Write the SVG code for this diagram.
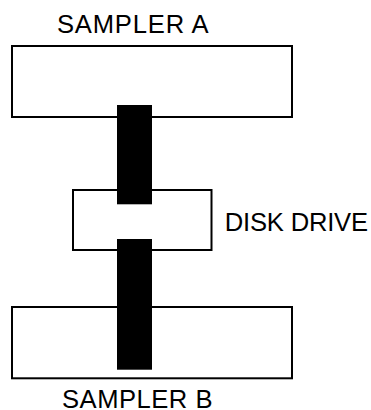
<svg xmlns="http://www.w3.org/2000/svg" width="371" height="410" viewBox="0 0 371 410">
<style>
.box{fill:#fff;stroke:#000;stroke-width:2}
.lbl{font-family:"Liberation Sans",Arial,sans-serif;font-size:25.6px;fill:#000}
.bus{fill:#000}
</style>
<rect width="371" height="410" fill="#fff"/>
<g id="sampler-a">
<rect class="box" x="12" y="46" width="280" height="71"/>
<text class="lbl" x="57" y="33.3" letter-spacing="0.8">SAMPLER A</text>
</g>
<g id="disk-drive">
<rect class="box" x="73" y="190" width="138.5" height="60"/>
<text class="lbl" x="224.8" y="231" letter-spacing="-0.2">DISK DRIVE</text>
</g>
<g id="sampler-b">
<rect class="box" x="12" y="307" width="280" height="71.3"/>
<text class="lbl" x="62" y="407.5" letter-spacing="0.5">SAMPLER B</text>
</g>
<g id="connectors">
<rect class="bus" x="117" y="105" width="35" height="99.3"/>
<rect class="bus" x="117" y="239" width="35" height="130.7"/>
</g>
</svg>
